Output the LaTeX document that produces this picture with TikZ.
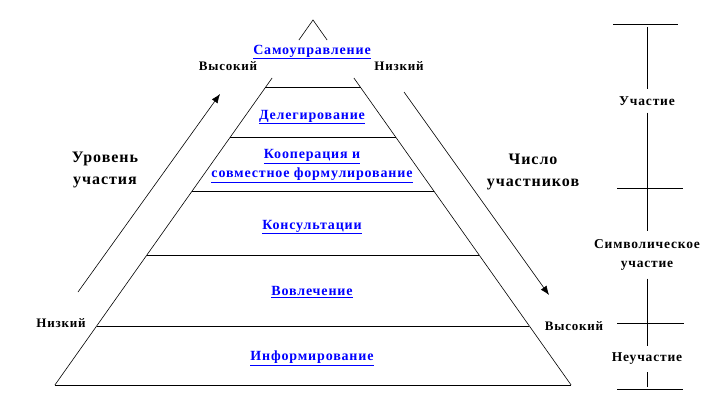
\documentclass[tikz,border=0pt]{standalone}
\usepackage{fontspec}
\setmainfont{Liberation Serif}[LetterSpace=6]
\usetikzlibrary{arrows.meta,calc}

\tikzset{
  level/.style={text=blue, font=\bfseries\fontsize{14}{19}\selectfont, align=center},
  tag/.style={font=\bfseries\fontsize{13}{15}\selectfont},
  axis/.style={font=\bfseries\fontsize{16}{22}\selectfont, align=center},
  stage/.style={font=\bfseries\fontsize{13.5}{19}\selectfont, align=center},
  side/.style={line width=0.6pt},
  rung/.style={line width=1pt},
  trend/.style={line width=0.6pt, -{Latex[length=9pt,width=7pt]}}
}

\begin{document}
\begin{tikzpicture}[x=1pt, y=-1pt]
  \useasboundingbox (0,0) rectangle (719,414);

  % pyramid
  \coordinate (top) at (313,20);
  \draw[side] (298.9,40) -- (top) -- (327.1,40);
  \draw[side] (272.1,78) -- (54.9,385);
  \draw[side] (353.9,78) -- (571.1,385);
  \draw[rung] (264.9,88) -- (361.1,88);
  \draw[rung] (229.6,138) -- (396.4,138);
  \draw[rung] (191.7,191.5) -- (434.3,191.5);
  \draw[rung] (146.9,255) -- (479.1,255);
  \draw[rung] (96.7,326) -- (529.3,326);
  \draw[rung] (54.9,385) -- (571.1,385);

  \node[level] (self) at (312,52) {\underline{Самоуправление}};
  \node[level] (deleg) at (312,117) {\underline{Делегирование}};
  \node[level] (coop) at (312,166) {\underline{Кооперация и}\\\underline{совместное формулирование}};
  \node[level] (consult) at (312,227) {\underline{Консультации}};
  \node[level] (involve) at (312,292) {\underline{Вовлечение}};
  \node[level] (inform) at (312,358) {\underline{Информирование}};

  \node[tag] (highL) at (228,66) {Высокий};
  \node[tag] (lowR) at (399,66) {Низкий};
  \node[tag] (lowL) at (61,323) {Низкий};
  \node[tag] (highR) at (574,326) {Высокий};

  % trends
  \coordinate (levelS) at (78,292);
  \coordinate (levelE) at (220,94);
  \coordinate (countS) at (404,92);
  \coordinate (countE) at (549,295);
  \draw[trend] (levelS) -- (levelE);
  \draw[trend] (countS) -- (countE);
  \node[axis] (level) at (105,170) {Уровень\\участия};
  \node[axis] (count) at (533,172) {Число\\участников};

  % stages
  \coordinate (tickA) at (647,24);
  \coordinate (tickB) at (647,188);
  \coordinate (tickC) at (647,323);
  \coordinate (tickD) at (647,389);
  \draw (613,24) -- (678,24);
  \draw (617,188) -- (683,188);
  \draw (617,323) -- (684,323);
  \draw (617,389) -- (683,389);
  \node[stage, inner ysep=7pt] (part) at (647,101) {Участие};
  \node[stage, inner ysep=8pt] (symb) at (647,255) {Символическое\\участие};
  \node[stage, inner ysep=7pt] (nonpart) at (647,359) {Неучастие};
  \draw ([yshift=-3pt]tickA) -- (part);
  \draw (part) -- (tickB) -- (symb);
  \draw (symb) -- (tickC) -- (nonpart);
  \draw (nonpart) -- ([yshift=2pt]tickD);
\end{tikzpicture}
\end{document}
